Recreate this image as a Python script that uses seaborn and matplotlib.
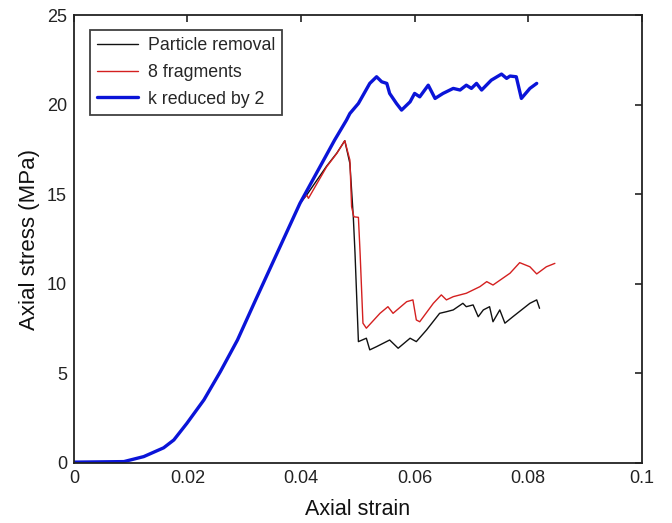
import matplotlib
matplotlib.use("Agg")
import matplotlib.pyplot as plt
import seaborn as sns
import pandas as pd
import numpy as np

# Shared initial loading branch (all three models)
load_strain = [0.0, 0.0088, 0.0123, 0.0158, 0.0176, 0.0199, 0.0229, 0.0258,
               0.0288, 0.0320, 0.0398]
load_stress = [0.04, 0.07, 0.35, 0.84, 1.28, 2.21, 3.52, 5.10,
               6.86, 9.10, 14.49]

# k reduced by 2 (blue)
blue_strain = [0.0459, 0.0480, 0.0486, 0.0501, 0.0521, 0.0533, 0.0542, 0.0551,
               0.0556, 0.0568, 0.0577, 0.0592, 0.0600, 0.0609, 0.0624, 0.0636,
               0.0650, 0.0668, 0.0680, 0.0691, 0.0700, 0.0709, 0.0718, 0.0735,
               0.0753, 0.0762, 0.0768, 0.0779, 0.0788, 0.0803, 0.0815]
blue_stress = [18.02, 19.14, 19.51, 20.07, 21.19, 21.56, 21.28, 21.19,
               20.63, 20.07, 19.70, 20.16, 20.63, 20.44, 21.09, 20.35,
               20.63, 20.91, 20.82, 21.09, 20.91, 21.19, 20.82, 21.37,
               21.71, 21.47, 21.60, 21.56, 20.35, 20.91, 21.19]

# 8 fragments (red)
red_strain = [0.0410, 0.0413, 0.0445, 0.0463, 0.0477, 0.0486, 0.0489, 0.0493,
              0.0501, 0.0504, 0.0509, 0.0515, 0.0539, 0.0553, 0.0562, 0.0586,
              0.0597, 0.0603, 0.0609, 0.0633, 0.0647, 0.0656, 0.0668, 0.0691,
              0.0715, 0.0727, 0.0738, 0.0768, 0.0785, 0.0803, 0.0815, 0.0832,
              0.0847]
red_stress = [14.96, 14.77, 16.53, 17.28, 17.99, 16.91, 14.30, 13.74,
              13.71, 11.70, 7.80, 7.52, 8.35, 8.72, 8.35, 9.00,
              9.10, 7.98, 7.88, 8.91, 9.38, 9.10, 9.28, 9.47,
              9.84, 10.12, 9.93, 10.59, 11.18, 10.95, 10.55, 10.95,
              11.14]

# Particle removal (black)
black_strain = [0.0410, 0.0445, 0.0463, 0.0477, 0.0486, 0.0492, 0.0495, 0.0501,
                0.0515, 0.0521, 0.0533, 0.0556, 0.0571, 0.0592, 0.0603, 0.0621,
                0.0644, 0.0656, 0.0668, 0.0685, 0.0691, 0.0703, 0.0712, 0.0721,
                0.0732, 0.0738, 0.0750, 0.0759, 0.0773, 0.0803, 0.0815, 0.0820]
black_stress = [14.96, 16.57, 17.30, 17.99, 16.72, 13.74, 11.72, 6.77,
                6.96, 6.31, 6.49, 6.86, 6.40, 6.96, 6.77, 7.42,
                8.35, 8.44, 8.54, 8.91, 8.72, 8.82, 8.16, 8.54,
                8.72, 7.88, 8.54, 7.80, 8.16, 8.91, 9.10, 8.63]

series_names = ["Particle removal", "8 fragments", "k reduced by 2"]

def make_df(xs, ys, name):
    return pd.DataFrame({"strain": load_strain + xs, "stress": load_stress + ys,
                         "model": name})

df_black = make_df(black_strain, black_stress, series_names[0])
df_red = make_df(red_strain, red_stress, series_names[1])
df_blue = make_df(blue_strain, blue_stress, series_names[2])

sns.set_style("white")
plt.rcParams['font.family'] = ['Liberation Sans', 'DejaVu Sans']

fig = plt.figure(figsize=(6.72, 5.23), dpi=100)
ax = fig.add_axes([0.110, 0.115, 0.845, 0.856])

sns.lineplot(data=df_black, x="strain", y="stress", sort=False, estimator=None,
             color="#111111", lw=1.0, ax=ax, label=series_names[0])
sns.lineplot(data=df_red, x="strain", y="stress", sort=False, estimator=None,
             color="#d42020", lw=1.0, ax=ax, label=series_names[1])
sns.lineplot(data=df_blue, x="strain", y="stress", sort=False, estimator=None,
             color="#0a14d8", lw=2.4, ax=ax, label=series_names[2])

ax.set_xlim(0, 0.1)
ax.set_ylim(0, 25)
ax.set_xticks([0, 0.02, 0.04, 0.06, 0.08, 0.1])
ax.set_xticklabels(["0", "0.02", "0.04", "0.06", "0.08", "0.1"])
ax.set_yticks([0, 5, 10, 15, 20, 25])
ax.tick_params(direction="in", length=5, width=1.2, top=True, right=True,
               labelsize=13, colors="#222222", pad=5)
for s in ax.spines.values():
    s.set_linewidth(1.3)
    s.set_color("#222222")
ax.set_xlabel("Axial strain", fontsize=15.5, color="#111111", labelpad=9)
ax.set_ylabel("Axial stress (MPa)", fontsize=16, color="#111111", labelpad=5)

leg = ax.legend(loc="upper left", bbox_to_anchor=(0.028, 0.967), frameon=True,
                fancybox=False, fontsize=12.8, handlelength=2.3,
                borderpad=0.4, labelspacing=0.55, handletextpad=0.55,
                borderaxespad=0)
leg.get_frame().set_edgecolor("#111111")
leg.get_frame().set_linewidth(1.3)

fig.savefig("out.png", dpi=100)
